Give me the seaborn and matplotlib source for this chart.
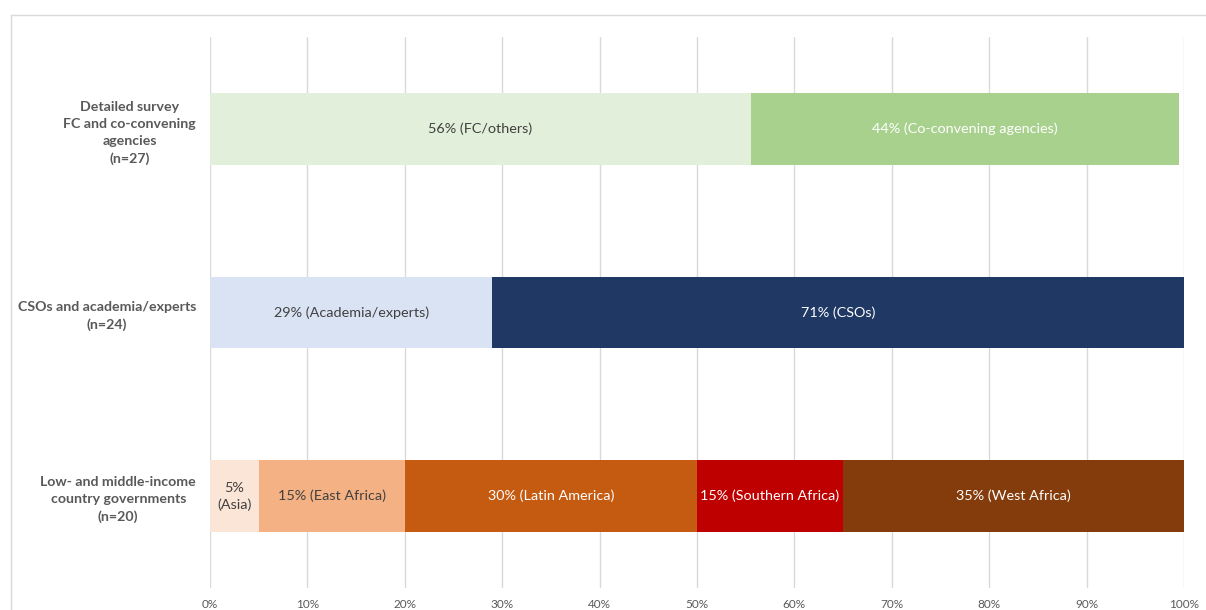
import matplotlib
matplotlib.use("Agg")
import matplotlib.pyplot as plt
import matplotlib.patches as patches
import seaborn as sns
from matplotlib.ticker import PercentFormatter

# ── data ──────────────────────────────────────────────────────
categories = [
    "Detailed survey\nFC and co-convening\nagencies\n(n=27)",
    "CSOs and academia/experts\n(n=24)",
    "Low- and middle-income\ncountry governments\n(n=20)",
]

survey_vals = [55.5, 44.0]
survey_labels = ["56% (FC/others)", "44% (Co-convening agencies)"]
survey_colors = ["#E2EFDA", "#A9D18E"]

cso_vals = [29, 71]
cso_labels = ["29% (Academia/experts)", "71% (CSOs)"]
cso_colors = ["#DAE3F3", "#1F3864"]

gov_vals = [5, 15, 30, 15, 35]
gov_labels = ["5%\n(Asia)", "15% (East Africa)", "30% (Latin America)",
              "15% (Southern Africa)", "35% (West Africa)"]
gov_colors = ["#FBE5D6", "#F4B183", "#C55A11", "#BE0000", "#843C0C"]

light = {"#E2EFDA", "#DAE3F3", "#FBE5D6", "#F4B183"}

# ── plot ──────────────────────────────────────────────────────
sns.set_style("white")
plt.rcParams["font.family"] = ["Lato", "DejaVu Sans"]

fig = plt.figure(figsize=(12.06, 6.10), dpi=100)
ax = fig.add_axes([210 / 1206, 1 - 588 / 610, 974 / 1206, 551 / 610])

rows = [(survey_vals, survey_labels, survey_colors),
        (cso_vals, cso_labels, cso_colors),
        (gov_vals, gov_labels, gov_colors)]

for cat, (vals, labs, cols) in zip(categories, rows):
    start = 0
    for v, lab, c in zip(vals, labs, cols):
        sns.barplot(x=[v], y=[cat], order=categories, color=c, saturation=1,
                    width=0.39, left=start, linewidth=0, ax=ax)
        tc = "#404040" if c in light else "white"
        ax.text(start + v / 2, categories.index(cat), lab, ha="center",
                va="center", fontsize=10.4, color=tc, linespacing=1.45)
        start += v

ax.set_xlim(0, 100)
ax.set_ylim(2.5, -0.5)
ax.set_xticks(range(0, 101, 10))
ax.xaxis.set_major_formatter(PercentFormatter(decimals=0))
ax.grid(axis="x", color="#d9d9d9", linewidth=1)
ax.set_axisbelow(True)
for s in ax.spines.values():
    s.set_visible(False)
ax.set_xlabel("")
ax.set_ylabel("")
ax.tick_params(axis="x", length=0, labelsize=8.5, labelcolor="#595959", pad=8)
ax.tick_params(axis="y", length=0, pad=10)
for t in ax.get_yticklabels():
    t.set_multialignment("center")
    t.set_fontweight("bold")
    t.set_fontsize(10.2)
    t.set_linespacing(1.5)
    t.set_color("#595959")

# outer chart border (partially cropped in the reference)
fig.patches.append(patches.Rectangle((11 / 1206, -0.1), 1.2, 1.1 - 15 / 610,
                                     transform=fig.transFigure, fill=False,
                                     edgecolor="#d9d9d9", linewidth=1))

fig.savefig("out.png", dpi=100)
